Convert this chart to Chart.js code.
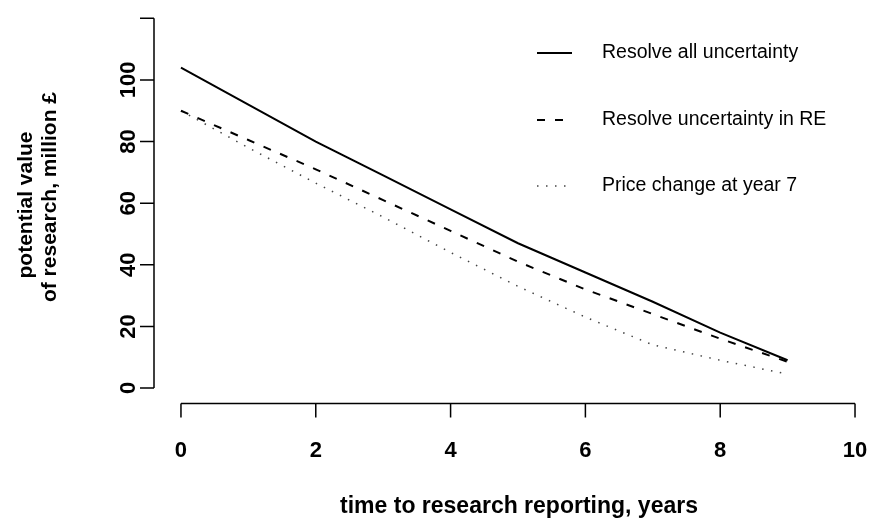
<!DOCTYPE html>
<html>
<head>
<meta charset="utf-8">
<script src="https://cdn.jsdelivr.net/npm/chart.js@4"></script>
<style>
    html, body { margin: 0; padding: 0; background: #fff; }
    #wrap { width: 871px; height: 522px; }
</style>
</head>
<body>
<div id="wrap"><canvas id="valueChart" width="871" height="522"></canvas></div>
<script>
// years until research reports
const years = [0, 1, 2, 3, 4, 5, 6, 7, 8, 9];

// potential value of research, million £
const resolveAll = [104, 92, 80, 69, 58, 47, 37.5, 28, 18, 9];
const resolveRE = [90, 80.5, 71, 61, 51, 41, 32, 24, 16, 8.5];
const priceChange = [90, 78, 66.5, 55.5, 44, 33, 23, 14, 9, 4.5];

const seriesNames = ['Resolve all uncertainty', 'Resolve uncertainty in RE', 'Price change at year 7'];

// axis ticks (R style: 120 tick has no label)
const xTicks = [0, 2, 4, 6, 8, 10];
const yTicks = [0, 20, 40, 60, 80, 100, 120];
const yTickLabels = ['0', '20', '40', '60', '80', '100', ''];

const xTitle = 'time to research reporting, years';
const yTitle = ['potential value', 'of research, million £'];

const FONT = '"Liberation Sans", Arial, sans-serif';

function toPoints(values) {
    return years.map((x, i) => ({ x: x, y: values[i] }));
}

/**
 * Draws base-R looking axes, titles and the boxless legend
 */
const rAxesPlugin = {
    id: 'rAxes',
    afterDraw(chart) {
        const ctx = chart.ctx;
        const xs = chart.scales.x;
        const ys = chart.scales.y;
        const area = chart.chartArea;
        const tick = 14;

        ctx.save();
        ctx.strokeStyle = '#000';
        ctx.fillStyle = '#000';
        ctx.lineWidth = 1.5;

        // y axis
        const axX = area.left;
        ctx.beginPath();
        ctx.moveTo(axX, ys.getPixelForValue(yTicks[0]));
        ctx.lineTo(axX, ys.getPixelForValue(yTicks[yTicks.length - 1]));
        yTicks.forEach(v => {
            const py = ys.getPixelForValue(v);
            ctx.moveTo(axX, py);
            ctx.lineTo(axX - tick, py);
        });
        ctx.stroke();

        ctx.font = 'bold 22px ' + FONT;
        ctx.textAlign = 'center';
        ctx.textBaseline = 'middle';
        yTicks.forEach((v, i) => {
            if (!yTickLabels[i]) return;
            ctx.save();
            ctx.translate(axX - 25, ys.getPixelForValue(v));
            ctx.rotate(-Math.PI / 2);
            ctx.fillText(yTickLabels[i], 0, 0);
            ctx.restore();
        });

        // x axis
        const axY = area.bottom;
        ctx.beginPath();
        ctx.moveTo(xs.getPixelForValue(xTicks[0]), axY);
        ctx.lineTo(xs.getPixelForValue(xTicks[xTicks.length - 1]), axY);
        xTicks.forEach(v => {
            const px = xs.getPixelForValue(v);
            ctx.moveTo(px, axY);
            ctx.lineTo(px, axY + tick);
        });
        ctx.stroke();
        xTicks.forEach(v => {
            ctx.fillText(String(v), xs.getPixelForValue(v), axY + 48);
        });

        // titles
        ctx.font = 'bold 23px ' + FONT;
        ctx.fillText(xTitle, 519, 507);
        ctx.font = 'bold 21px ' + FONT;
        ctx.save();
        ctx.translate(26, 205);
        ctx.rotate(-Math.PI / 2);
        ctx.fillText(yTitle[0], 0, 0);
        ctx.fillText(yTitle[1], 8, 24);
        ctx.restore();

        // legend
        const rows = [53, 120, 186];
        ctx.font = '19.5px ' + FONT;
        ctx.textAlign = 'left';
        chart.data.datasets.forEach((ds, i) => {
            ctx.save();
            ctx.lineWidth = ds.borderWidth;
            ctx.strokeStyle = ds.borderColor;
            ctx.setLineDash(ds.borderDash || []);
            ctx.beginPath();
            ctx.moveTo(537, rows[i]);
            ctx.lineTo(572, rows[i]);
            ctx.stroke();
            ctx.restore();
            ctx.fillText(ds.label, 602, rows[i]);
        });

        ctx.restore();
    }
};

new Chart(document.getElementById('valueChart').getContext('2d'), {
    type: 'line',
    data: {
        datasets: [{
            label: seriesNames[0],
            data: toPoints(resolveAll),
            borderColor: '#000',
            borderWidth: 2,
            pointRadius: 0,
            tension: 0
        }, {
            label: seriesNames[1],
            data: toPoints(resolveRE),
            borderColor: '#000',
            borderWidth: 2,
            borderDash: [8, 10],
            pointRadius: 0,
            tension: 0
        }, {
            label: seriesNames[2],
            data: toPoints(priceChange),
            borderColor: '#444',
            borderWidth: 1.5,
            borderDash: [1.5, 7.5],
            pointRadius: 0,
            tension: 0
        }]
    },
    options: {
        responsive: false,
        animation: false,
        devicePixelRatio: 1,
        layout: {
            padding: { left: 154, right: 2.5, top: 12.2, bottom: 118.6 }
        },
        scales: {
            x: { type: 'linear', min: -0.4, max: 10.2, display: false },
            y: { type: 'linear', min: -5, max: 122, display: false }
        },
        plugins: {
            legend: { display: false },
            tooltip: { enabled: false }
        }
    },
    plugins: [rAxesPlugin]
});
</script>
</body>
</html>
